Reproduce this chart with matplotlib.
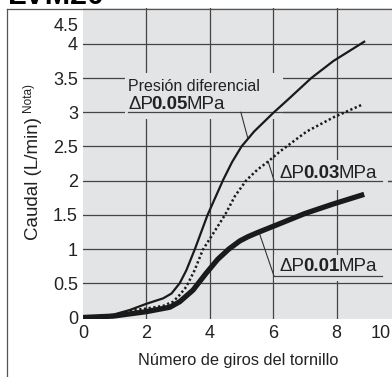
import matplotlib
matplotlib.use('Agg')
import matplotlib.pyplot as plt
from matplotlib.patches import Rectangle
from matplotlib.lines import Line2D

plt.rcParams['font.family'] = ['Liberation Sans', 'DejaVu Sans']

# Data (turns vs flow L/min)
turns_005 = [0, 0.95, 1.48, 2.0, 2.53, 2.79, 3.05, 3.26, 3.53, 3.73, 3.93, 4.42, 4.7, 5.0, 5.4, 5.8, 6.0, 6.5, 7.2, 7.9, 8.9]
flow_005 = [0, 0.04, 0.11, 0.2, 0.28, 0.35, 0.5, 0.69, 1.0, 1.25, 1.5, 2.01, 2.27, 2.5, 2.72, 2.9, 2.99, 3.2, 3.5, 3.75, 4.04]

turns_003 = [0, 0.95, 1.64, 2.0, 2.53, 2.84, 3.05, 3.26, 3.52, 3.78, 4.48, 4.8, 5.16, 5.5, 5.84, 6.22, 7.06, 7.92, 8.8]
flow_003 = [0, 0.03, 0.11, 0.13, 0.17, 0.23, 0.33, 0.45, 0.69, 0.99, 1.5, 1.78, 2.01, 2.16, 2.28, 2.43, 2.72, 2.93, 3.11]

turns_001 = [0, 0.95, 2.0, 2.74, 3.05, 3.47, 3.89, 4.25, 4.6, 4.95, 5.2, 5.5, 6.2, 7.0, 7.9, 8.87]
flow_001 = [0, 0.02, 0.085, 0.15, 0.23, 0.4, 0.65, 0.85, 1.0, 1.12, 1.18, 1.24, 1.37, 1.52, 1.66, 1.8]

xtick_pos = [0, 2, 4, 6, 8, 9.4]
xtick_labels = ['0', '2', '4', '6', '8', '10']
ytick_pos = [0, 0.5, 1, 1.5, 2, 2.5, 3, 3.5, 4, 4.29]
ytick_labels = ['0', '0.5', '1', '1.5', '2', '2.5', '3', '3.5', '4', '4.5']

W, H = 392, 377
fig = plt.figure(figsize=(W / 100, H / 100), dpi=100)

# plot area in pixels
x0, x1 = 83, 400
ytop, ybot = 8.3, 318.5
ax = fig.add_axes([x0 / W, 1 - ybot / H, (x1 - x0) / W, (ybot - ytop) / H])
ax.set_xlim(0, 10)
ax.set_ylim(-0.015, 4.52)
ax.set_facecolor('#e3e4e6')
for s in ax.spines.values():
    s.set_visible(False)

gc = '#444444'
for gx in [2, 4, 6, 8]:
    ax.axvline(gx, color=gc, lw=0.9, zorder=1)
for gy in [0.5, 1, 1.5, 2, 2.5, 3, 3.5, 4]:
    ax.axhline(gy, color=gc, lw=0.9, zorder=1)

ax.set_xticks(xtick_pos, xtick_labels)
ax.set_yticks(ytick_pos, ytick_labels)
ax.tick_params(axis='x', length=0, labelsize=13, pad=4.5, colors='#222222')
ax.tick_params(axis='y', length=0, labelsize=13, pad=3.6, colors='#222222')

# curves
ax.plot(turns_001, flow_001, color='#1a1a1a', lw=3.8, zorder=4, solid_capstyle='butt', solid_joinstyle='round')
ax.plot(turns_003, flow_003, color='#1a1a1a', lw=1.8, ls=(0, (0.9, 1.0)), zorder=4)
ax.plot(turns_005, flow_005, color='#1a1a1a', lw=1.6, zorder=4, solid_capstyle='butt', solid_joinstyle='round')

bg = '#e3e4e6'
lc = '#333333'

# boxes that hide the grid behind the labels
ax.add_patch(Rectangle((1.32, 2.90), 4.99, 0.67, facecolor=bg, edgecolor='none', zorder=2))
ax.add_patch(Rectangle((6.03, 1.86), 3.59, 0.44, facecolor=bg, edgecolor='none', zorder=2))
ax.add_patch(Rectangle((6.03, 0.53), 3.59, 0.39, facecolor=bg, edgecolor='none', zorder=2))

# underlines and leader lines
ax.plot([1.42, 10], [3.0, 3.0], color=gc, lw=0.9, zorder=3)
ax.plot([4.98, 5.2], [3.0, 2.62], color=lc, lw=0.8, zorder=3)
ax.plot([6.03, 9.43], [2.0, 2.0], color=gc, lw=0.9, zorder=3)
ax.plot([9.62, 10], [2.0, 2.0], color=gc, lw=0.9, zorder=3)
ax.plot([6.03, 5.84], [2.0, 2.28], color=lc, lw=0.8, zorder=3)
ax.plot([6.03, 9.43], [0.6, 0.6], color=gc, lw=0.9, zorder=3)
ax.plot([6.03, 5.58], [0.6, 1.21], color=lc, lw=0.8, zorder=3)


def dp_label(x, y, val):
    t1 = ax.text(x, y, 'ΔP', fontsize=13.5, va='center', ha='left', zorder=5, color='#222222')
    t2 = ax.annotate(val, xy=(1, 0), xycoords=t1, xytext=(-1.5, 0), textcoords='offset points',
                     va='bottom', ha='left', fontsize=13.5, weight='bold', zorder=5, color='#222222')
    ax.annotate('MPa', xy=(1, 0), xycoords=t2, xytext=(-0.5, 0), textcoords='offset points',
                va='bottom', ha='left', fontsize=13.5, zorder=5, color='#222222')


ax.text(1.42, 3.37, 'Presión diferencial', fontsize=11.5, va='center', ha='left', zorder=5, color='#222222')
dp_label(1.42, 3.11, '0.05')
dp_label(6.21, 2.10, '0.03')
dp_label(6.21, 0.75, '0.01')

# axis titles
fig.text(34 / W, 1 - 178 / H, 'Caudal (L/min)', rotation=90, fontsize=13.5,
         ha='center', va='center', color='#222222')
fig.text(28 / W, 1 - 98 / H, 'Nota)', rotation=90, fontsize=8.5,
         ha='center', va='center', color='#222222')
fig.text(238 / W, 1 - 360 / H, 'Número de giros del tornillo', fontsize=11.8,
         ha='center', va='center', color='#222222')

# outer frame and cut-off heading
fig.add_artist(Line2D([7 / W, 7 / W], [0, 1 - 9 / H], transform=fig.transFigure, color='#555555', lw=0.9))
fig.add_artist(Line2D([7 / W, 1], [1 - 9 / H, 1 - 9 / H], transform=fig.transFigure, color='#555555', lw=0.9))
fig.text(8 / W, 1 - 4 / H, 'LVM20', fontsize=22, weight='bold', va='baseline', ha='left')

fig.savefig('out.png', dpi=100)
